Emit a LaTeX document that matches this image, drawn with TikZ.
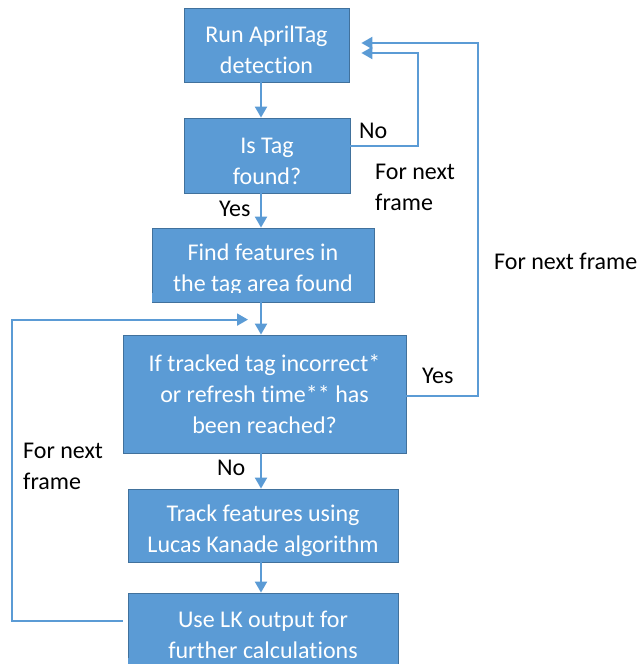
\documentclass[tikz,border=0pt]{standalone}
\usepackage{fontspec}
\setmainfont{Carlito}[Ligatures=NoCommon]
\usetikzlibrary{arrows.meta,calc}
\definecolor{boxblue}{HTML}{5B9BD5}
\definecolor{boxedge}{HTML}{41719C}
% taller first line: sets two-line box texts a little lower
\newcommand\firstdrop{\rule{0pt}{27pt}}
\begin{document}
\begin{tikzpicture}[x=1pt,y=-1pt,
  flowbox/.style={draw=boxedge, line width=0.8pt, fill=boxblue, text=white,
    align=center, inner sep=0pt, font=\fontsize{24}{31}\selectfont},
  link/.style={draw=boxblue, line width=2pt},
  arr/.style={link, -{Triangle[length=11pt,width=12pt]}},
  lbl/.style={font=\fontsize{24}{31}\selectfont, text=black, inner sep=0pt,
    align=left, anchor=west}]
\useasboundingbox (0,0) rectangle (639,664);
\clip (0,0) rectangle (639,664);

% process boxes
\node[flowbox, minimum width=165pt, minimum height=74pt] (b1) at (266.5,45) {\firstdrop Run AprilTag\\detection};
\node[flowbox, minimum width=166pt, minimum height=75pt] (b2) at (267,155.5) {\firstdrop Is Tag\\found?};
\node[flowbox, minimum width=222pt, minimum height=74pt] (b3) at (263,265) {\firstdrop Find features in\\the tag area found};
\node[flowbox, minimum width=283pt, minimum height=118pt] (b4) at (264.5,394) {If tracked tag incorrect*\\or refresh time** has\\been reached?};
\node[flowbox, minimum width=270pt, minimum height=73pt] (b5) at (263,525.5) {\firstdrop Track features using\\Lucas Kanade algorithm};
\node[flowbox, minimum width=270pt, minimum height=74pt] (b6) at (263,630) {\firstdrop Use LK output for\\further calculations};

% overflowing text is cut at the text frame of the box
\fill[boxblue] ($(b3.south west)+(0.6,-0.6)$) rectangle ($(b3.south east)+(-0.6,-9)$);
\fill[boxblue] ($(b6.south west)+(0.6,-0.6)$) rectangle ($(b6.south east)+(-0.6,-9)$);

% columns of the connectors
\coordinate (spine) at (261,0);
\coordinate (nocol) at (418,0);
\coordinate (yescol) at (478,0);
\coordinate (backcol) at (12,0);

% main flow
\draw[arr] (b1.south -| spine) -- (b2.north -| spine);
\draw[arr] (b2.south -| spine) -- (b3.north -| spine);
\draw[arr] (b3.south -| spine) -- (b4.north -| spine);
\draw[arr] (b4.south -| spine) -- (b5.north -| spine);
\draw[arr] (b5.south -| spine) -- (b6.north -| spine);

% loops back
\draw[arr] ($(b2.east)+(0,-10)$) -| ($(nocol |- b1.east)+(0,8)$) -- ($(b1.east)+(12,8)$);
\draw[arr] ($(b4.east)+(0,2)$) -| ($(yescol |- b1.east)+(0,-2)$) -- ($(b1.east)+(12,-2)$);
\draw[arr] ($(b6.west)+(-5,-9)$) -| ($(backcol |- b4.north)+(0,-15)$) -- ($(spine |- b4.north)+(-13,-15)$);

% labels
\node[lbl] (no1) at (359,131) {No};
\node[lbl] (next1) at (375,187) {For next\\frame};
\node[lbl] (yes1) at (219,209) {Yes};
\node[lbl] (next2) at (494,261) {For next frame};
\node[lbl] (yes2) at (422,376) {Yes};
\node[lbl] (no2) at (217,468) {No};
\node[lbl] (next3) at (23,466) {For next\\frame};
\end{tikzpicture}
\end{document}
